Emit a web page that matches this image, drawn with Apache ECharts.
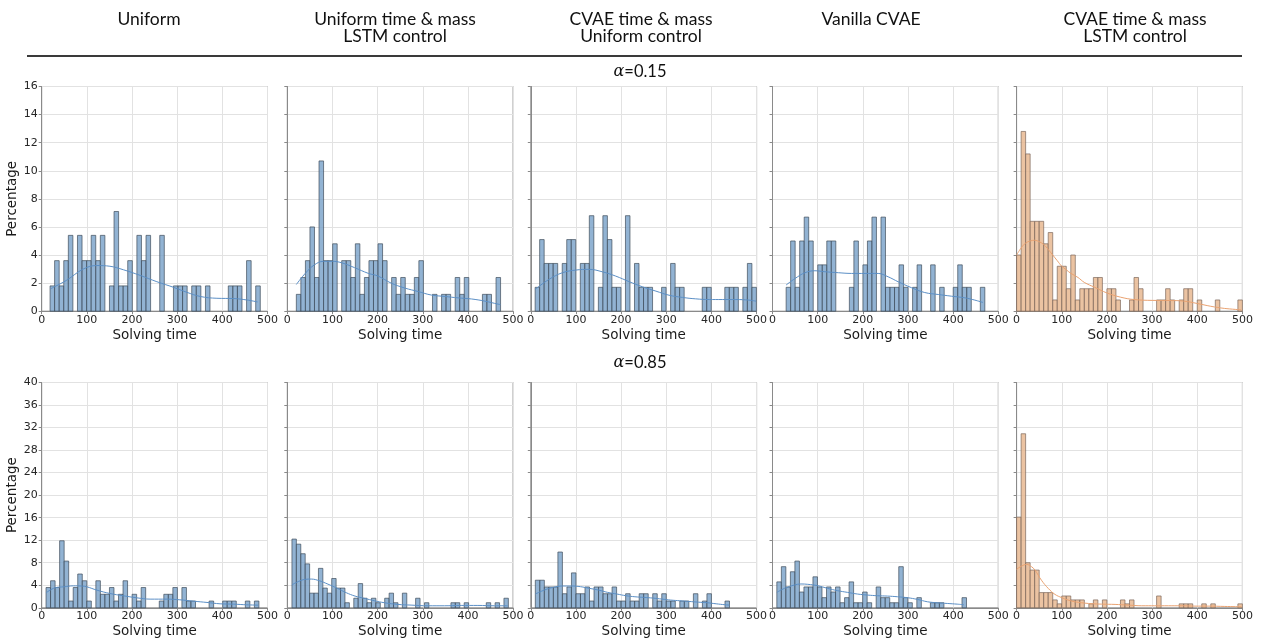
<!DOCTYPE html>
<html>
<head>
<meta charset="utf-8">
<script src="https://cdn.jsdelivr.net/npm/echarts@6/dist/echarts.min.js"></script>
<style>
  html, body { margin: 0; padding: 0; background: #ffffff; }
  #chart { width: 1265px; height: 643px; }
</style>
</head>
<body>
<div id="chart"></div>
<script>
// ---- Data ---------------------------------------------------------------
const methods = [
  ['Uniform'],
  ['Uniform time & mass', 'LSTM control'],
  ['CVAE time & mass', 'Uniform control'],
  ['Vanilla CVAE'],
  ['CVAE time & mass', 'LSTM control']
];
const alphaLabels = ['0.15', '0.85'];
const xTicks = [0, 100, 200, 300, 400, 500];
const yMaxByRow = [16, 40];
const yStepByRow = [2, 4];

// histogram bin layout (first edge, bin width) per panel, alpha = 0.15
const binStartTop = [18.5, 20, 9.6, 30.2, 0];
const binWidthTop = [10.12, 10.05, 10.0, 10.0, 10.0];
// alpha = 0.85
const binStartBot = [9.6, 10.3, 10, 9.6, 0];
const binWidthBot = [10.03, 9.78, 10.0, 10.0, 10.0];

// percentage of runs per bin, alpha = 0.15
const uniformTop = [1.8,3.6,1.8,3.6,5.4,0,5.4,3.6,3.6,5.4,3.6,5.4,0,1.8,7.1,1.8,1.8,3.6,0,5.4,3.6,5.4,0,0,5.4,0,0,1.8,1.8,1.8,0,1.8,1.8,0,1.8,0,0,0,0,1.8,1.8,1.8,0,3.6,0,1.8];
const uniTmLstmTop = [1.2,2.4,3.6,6.0,2.4,10.7,3.6,3.6,4.8,0,3.6,3.6,2.4,4.8,1.2,2.4,3.6,3.6,4.8,3.6,0,2.4,1.2,2.4,1.2,1.2,2.4,3.6,0,0,1.2,0,1.2,1.2,0,2.4,1.2,2.4,0,0,0,1.2,1.2,0,2.4];
const cvaeTmUniTop = [1.7,5.1,3.4,3.4,3.4,0,3.4,5.1,5.1,0,3.4,3.4,6.8,0,1.7,6.8,5.1,1.7,1.7,0,6.8,0,3.4,1.7,1.7,1.7,0,0,1.7,0,3.4,1.7,1.7,0,0,0,0,1.7,1.7,0,0,0,1.7,1.7,1.7,0,1.7,3.4,1.7];
const vanillaTop = [1.7,5.0,1.7,5.0,6.7,5.0,0,3.3,3.3,5.0,5.0,0,0,0,1.7,5.0,0,3.3,5.0,6.7,0,6.7,1.7,1.7,1.7,3.3,1.7,0,1.7,3.3,0,0,3.3,0,1.7,0,0,1.7,3.3,1.7,1.7,0,0,1.7];
const cvaeTmLstmTop = [4.0,12.8,11.2,6.4,6.4,6.4,4.8,5.6,0.8,3.2,3.2,1.6,4.0,0.8,1.6,1.6,1.6,2.4,2.4,0,1.6,1.6,0.8,0,0,0.8,2.4,1.6,0,0,0,0.8,0.8,1.6,0.8,0,0.8,1.6,1.6,0,0.8,0,0,0,0.8,0,0,0,0,0.8];

// percentage of runs per bin, alpha = 0.85
const uniformBot = [3.6,4.8,3.6,11.9,8.3,1.2,3.6,6.0,4.8,1.2,0,4.8,2.4,2.4,3.6,1.2,2.4,4.8,0,2.4,1.2,3.6,0,0,0,1.2,2.4,2.4,3.6,0,3.6,1.2,1.2,0,0,0,1.2,0,0,1.2,1.2,1.2,0,0,1.2,0,1.2];
const uniTmLstmBot = [12.2,11.3,9.6,7.8,2.6,2.6,7.0,3.5,2.6,5.2,3.5,3.5,0.9,0,1.7,4.3,1.7,0.9,1.7,0.9,0,1.7,2.6,0.9,0,2.6,0,0,1.7,0,0.9,0,0,0,0,0,0.9,0.9,0,0.9,0,0,0,0,0.9,0,0.9,0,1.7];
const cvaeTmUniBot = [4.9,4.9,3.7,3.7,3.7,9.9,2.5,3.7,6.2,2.5,2.5,3.7,1.2,3.7,3.7,2.5,2.5,3.7,1.2,1.2,2.5,1.2,1.2,2.5,2.5,0,2.5,1.2,2.5,1.2,1.2,0,1.2,1.2,0,2.5,0,1.2,2.5,0,0,0,1.2];
const vanillaBot = [4.6,7.3,3.7,6.4,8.3,2.8,3.7,3.7,5.5,3.7,1.8,3.7,2.8,3.7,0.9,1.8,4.6,0.9,0.9,2.8,0.9,0,3.7,1.8,1.8,0.9,0.9,7.3,1.8,0.9,0,1.8,0,0,0.9,0.9,0.9,0,0,0,0,1.8];
const cvaeTmLstmBot = [16.1,30.9,8.0,6.7,6.7,2.7,2.7,2.7,1.4,0.7,2.1,2.1,1.4,1.4,1.4,0,0.7,1.4,0,1.4,0,0,0,1.4,0.7,1.4,0,0,0,0,0,2.1,0,0,0,0,0.7,0.7,0.7,0,0,0.7,0,0.7,0,0,0,0,0,0.7];

// density curves (solving time, percentage), alpha = 0.15
const kdeUniformTop = [[20,1.6],[26,1.7],[55,2.2],[92,3.0],[122,3.25],[151,3.2],[181,2.95],[218,2.55],[255,2.1],[292,1.7],[321,1.35],[351,1.05],[388,0.92],[425,0.9],[454,0.8],[478,0.66]];
const kdeUniTmLstmTop = [[20,1.9],[40,2.7],[60,3.3],[80,3.55],[100,3.55],[120,3.45],[149,3.1],[179,2.7],[201,2.5],[230,2.0],[260,1.65],[290,1.4],[319,1.15],[349,1.05],[378,0.95],[408,0.87],[437,0.72],[467,0.5],[472,0.47]];
const kdeCvaeTmUniTop = [[9.6,1.55],[40,2.26],[70,2.74],[100,2.93],[129,2.98],[159,2.8],[188,2.5],[218,2.1],[247,1.74],[277,1.43],[306,1.14],[336,0.98],[365,0.88],[395,0.83],[424,0.83],[454,0.83],[483,0.79],[499,0.71]];
const kdeVanillaTop = [[30,1.86],[50,2.33],[72,2.74],[94,2.88],[116,2.81],[146,2.74],[175,2.69],[205,2.69],[234,2.69],[256,2.45],[278,2.1],[308,1.67],[337,1.33],[367,1.19],[396,1.07],[426,0.95],[448,0.79],[466,0.62]];
const kdeCvaeTmLstmTop = [[0,4.0],[10,4.5],[20,4.85],[30,5.0],[40,5.05],[50,4.95],[60,4.75],[70,4.4],[80,4.0],[90,3.6],[100,3.2],[110,2.95],[120,2.7],[136,2.4],[150,2.05],[173,1.7],[200,1.3],[230,1.0],[260,0.83],[300,0.77],[340,0.76],[370,0.72],[400,0.55],[430,0.35],[460,0.2],[497,0.1]];

// density curves, alpha = 0.85
const kdeUniformBot = [[9.6,2.66],[29.5,3.55],[50,3.73],[70,3.9],[90,3.85],[100,3.73],[122,3.14],[151,2.54],[181,2.13],[210,1.78],[240,1.54],[277,1.54],[306,1.42],[336,1.18],[366,0.95],[395,0.71],[425,0.65],[454,0.53],[480,0.47]];
const kdeUniTmLstmBot = [[10.3,4.05],[20,4.5],[40.5,5.06],[53,5.1],[71,4.8],[90,4.2],[111,3.45],[130.5,2.68],[150,2.08],[171,1.67],[193,1.25],[215,0.9],[245,0.6],[274,0.48],[311,0.36],[348,0.36],[385,0.42],[422,0.42],[459,0.36],[488,0.36]];
const kdeCvaeTmUniBot = [[10,2.44],[30,3.15],[50,3.63],[70.5,3.87],[90,3.87],[110,3.75],[130,3.45],[150,3.15],[170,2.74],[191,2.44],[211,2.14],[230.5,1.96],[250,1.85],[270,1.73],[290,1.55],[310,1.37],[330,1.25],[350,1.13],[371,1.0],[390.5,0.9],[410.5,0.71],[430,0.54],[440,0.48]];
const kdeVanillaBot = [[9.6,2.74],[26.5,3.45],[48.6,4.05],[63,4.23],[78,4.17],[100,3.93],[122,3.45],[144,3.04],[166,2.74],[188.5,2.44],[210.6,2.26],[232.7,2.14],[254.8,2.08],[277,1.96],[299,1.79],[321,1.49],[343,1.07],[365,0.89],[387,0.77],[409,0.65],[424,0.54]];
const kdeCvaeTmLstmBot = [[0,6.85],[11,7.4],[22,7.7],[33,7.3],[40.6,6.7],[55,4.9],[70,3.45],[85,2.38],[100,1.8],[114,1.37],[129,1.07],[159,0.77],[188,0.65],[218,0.6],[247,0.48],[277,0.36],[306,0.36],[336,0.36],[365,0.36],[395,0.3],[424,0.3],[461,0.24],[498,0.18]];

const histRows = [
  [uniformTop, uniTmLstmTop, cvaeTmUniTop, vanillaTop, cvaeTmLstmTop],
  [uniformBot, uniTmLstmBot, cvaeTmUniBot, vanillaBot, cvaeTmLstmBot]
];
const kdeRows = [
  [kdeUniformTop, kdeUniTmLstmTop, kdeCvaeTmUniTop, kdeVanillaTop, kdeCvaeTmLstmTop],
  [kdeUniformBot, kdeUniTmLstmBot, kdeCvaeTmUniBot, kdeVanillaBot, kdeCvaeTmLstmBot]
];
const binStarts = [binStartTop, binStartBot];
const binWidths = [binWidthTop, binWidthBot];

// ---- Layout & styles ----------------------------------------------------
const colLeft = [41.7, 287.3, 530.8, 772.5, 1016.6];
const plotW = 225.8;
const rowTop = [86.5, 382.5];
const rowH = [224.7, 225.3];

const blue = { fill: 'rgba(122,162,201,0.82)', stroke: 'rgba(60,72,86,0.85)', line: '#5b8fc6' };
const orange = { fill: 'rgba(232,184,146,0.85)', stroke: 'rgba(120,100,88,0.85)', line: '#e9a271' };

const tickFont = 'DejaVu Sans';
const headFont = 'Lato';

const grids = [], xAxes = [], yAxes = [], series = [];

for (let r = 0; r < 2; r++) {
  for (let c = 0; c < 5; c++) {
    const idx = r * 5 + c;
    const pal = c === 4 ? orange : blue;
    grids.push({
      left: colLeft[c], top: rowTop[r], width: plotW, height: rowH[r],
      show: true, borderColor: '#8a8a8a', borderWidth: 1, backgroundColor: 'transparent'
    });
    xAxes.push({
      type: 'value', gridIndex: idx, min: xTicks[0], max: xTicks[xTicks.length - 1], interval: 100,
      name: 'Solving time', nameLocation: 'middle', nameGap: 17,
      nameTextStyle: { fontFamily: tickFont, fontSize: 13.5, color: '#1a1a1a' },
      axisLine: { show: true, lineStyle: { color: '#8a8a8a', width: 1 } },
      axisTick: { show: true, length: 3, lineStyle: { color: '#8a8a8a' } },
      axisLabel: { fontFamily: tickFont, fontSize: 11, color: '#262626', margin: 3, showMaxLabel: true, showMinLabel: true },
      splitLine: { show: true, lineStyle: { color: '#e2e2e2', width: 1 } }
    });
    yAxes.push({
      type: 'value', gridIndex: idx, min: 0, max: yMaxByRow[r], interval: yStepByRow[r],
      name: c === 0 ? 'Percentage' : '', nameLocation: 'middle', nameGap: 19, nameRotate: 90,
      nameTextStyle: { fontFamily: tickFont, fontSize: 13.5, color: '#1a1a1a' },
      axisLine: { show: true, lineStyle: { color: '#8a8a8a', width: 1 } },
      axisTick: { show: true, length: 3, lineStyle: { color: '#8a8a8a' } },
      axisLabel: { show: c === 0, fontFamily: tickFont, fontSize: 11, color: '#262626', margin: 4 },
      splitLine: { show: true, lineStyle: { color: '#e2e2e2', width: 1 } }
    });
    const start = binStarts[r][c], w = binWidths[r][c];
    const bins = histRows[r][c]
      .map((v, i) => [start + i * w, start + (i + 1) * w, v])
      .filter(d => d[2] > 0);
    series.push({
      type: 'custom', xAxisIndex: idx, yAxisIndex: idx,
      data: bins, encode: { x: [0, 1], y: 2 }, silent: true,
      renderItem: (params, api) => {
        const a = api.coord([api.value(0), 0]);
        const b = api.coord([api.value(1), api.value(2)]);
        return {
          type: 'rect',
          shape: { x: a[0], y: b[1], width: b[0] - a[0], height: a[1] - b[1] },
          style: { fill: pal.fill, stroke: pal.stroke, lineWidth: 0.8 }
        };
      }
    });
    series.push({
      type: 'line', xAxisIndex: idx, yAxisIndex: idx, data: kdeRows[r][c],
      smooth: 0.4, showSymbol: false, silent: true, z: 5,
      lineStyle: { color: pal.line, width: 1 }
    });
  }
}

// ---- Column headings, separator and row labels ----------------------------
const headCenters = [149, 395, 641, 871, 1135];
const graphics = [];
methods.forEach((lines, c) => {
  lines.forEach((t, k) => {
    graphics.push({
      type: 'text', x: headCenters[c], y: 19.5 + k * 17,
      style: { text: t, fontFamily: headFont, fontSize: 17.5, fill: '#111', align: 'center', verticalAlign: 'middle' }
    });
  });
});
graphics.push({
  type: 'line', shape: { x1: 27, y1: 56, x2: 1242, y2: 56 },
  style: { stroke: '#3a3a3a', lineWidth: 2 }
});
alphaLabels.forEach((a, r) => {
  graphics.push({
    type: 'text', x: 640, y: r === 0 ? 72 : 363,
    style: {
      text: '{g|α}=' + a, fontFamily: headFont, fontSize: 16.5, fill: '#111',
      align: 'center', verticalAlign: 'middle',
      rich: { g: { fontFamily: 'DejaVu Serif', fontStyle: 'italic', fontSize: 16, fill: '#111' } }
    }
  });
});

const chart = echarts.init(document.getElementById('chart'), null, { renderer: 'canvas' });
chart.setOption({
  animation: false,
  backgroundColor: '#ffffff',
  grid: grids,
  xAxis: xAxes,
  yAxis: yAxes,
  series: series,
  graphic: graphics
});
</script>
</body>
</html>
